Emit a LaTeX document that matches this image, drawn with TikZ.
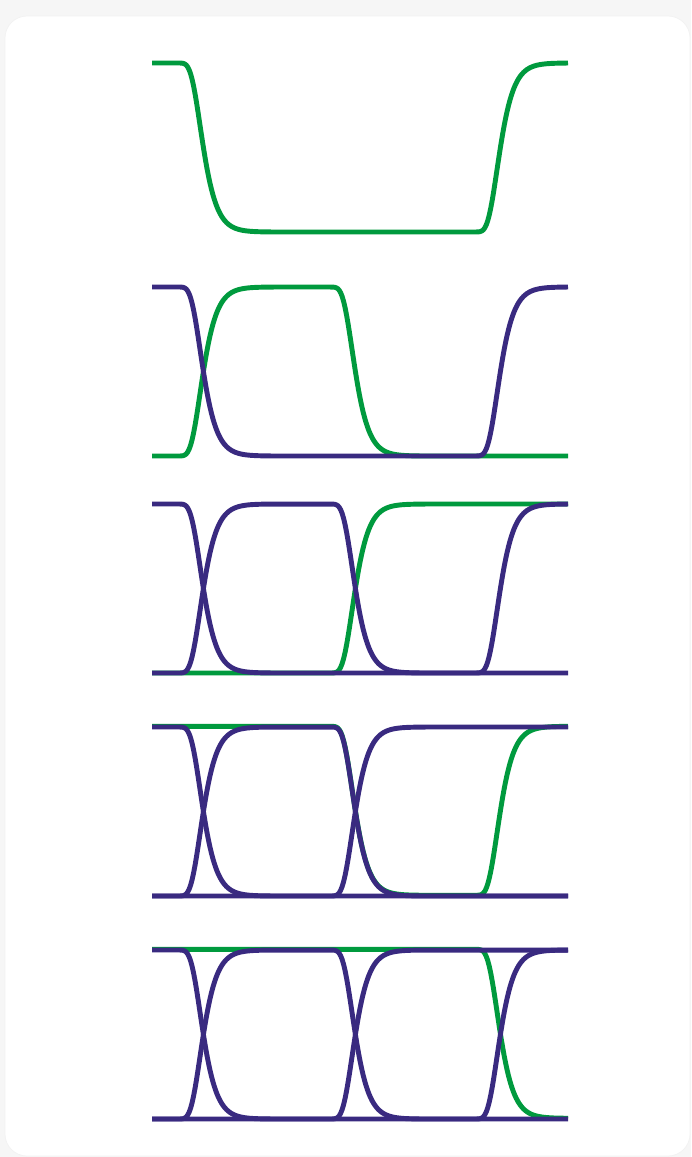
\documentclass[tikz,border=0pt]{standalone}
\usepackage{tikz}
\definecolor{eyegreen}{RGB}{0, 154, 62}
\definecolor{eyepurple}{RGB}{57, 42, 128}
\definecolor{pagegray}{RGB}{246, 246, 246}

% smooth edge: sharp knee at the start, slow settling at the end
\tikzset{declare function={edge(\t)=exp(-exp(-max(min(\t/9.3,8),-2.2)));}}

% one trace: #1 style, #2 top level, #3-#6 levels of the four bits (0 = high, 1 = low)
\newcommand{\bitwave}[6]{%
    \draw[#1] plot[domain=152:568, samples=281]
        (\x, {#2 + 169*(#3 + (#4-#3)*edge(\x-200) + (#5-#4)*edge(\x-352) + (#6-#5)*edge(\x-497))});
}

\begin{document}
\begin{tikzpicture}[
    x=0.02cm, y=-0.02cm,
    newtrace/.style={draw=eyegreen, line width=2.8pt},
    oldtrace/.style={draw=eyepurple, line width=2.8pt},
    card/.style={fill=white, draw=black!5, rounded corners=0.44cm}
]

    % Page and card
    \useasboundingbox (0,0) rectangle (691,1157);
    \fill[pagegray] (0,0) rectangle (691,1157);
    \path[card] (5,16) rectangle (690,1156);

    % Row 1: first trace alone
    \bitwave{newtrace}{63}{0}{1}{1}{0}

    % Row 2: new trace over the first one
    \bitwave{newtrace}{287}{1}{0}{1}{1}
    \bitwave{oldtrace}{287}{0}{1}{1}{0}

    % Row 3
    \bitwave{newtrace}{504}{1}{1}{0}{0}
    \bitwave{oldtrace}{504}{0}{1}{1}{0}
    \bitwave{oldtrace}{504}{1}{0}{1}{1}

    % Row 4
    \bitwave{newtrace, yshift=0.4pt}{727}{0}{0}{1}{0}
    \bitwave{oldtrace}{727}{0}{1}{1}{1}
    \bitwave{oldtrace}{727}{1}{0}{1}{1}
    \bitwave{oldtrace}{727}{1}{1}{0}{0}

    % Row 5: the eye is open
    \bitwave{newtrace, yshift=0.4pt}{950}{0}{0}{0}{1}
    \bitwave{oldtrace}{950}{0}{1}{1}{0}
    \bitwave{oldtrace}{950}{1}{0}{1}{1}
    \bitwave{oldtrace}{950}{1}{1}{0}{0}

\end{tikzpicture}
\end{document}
